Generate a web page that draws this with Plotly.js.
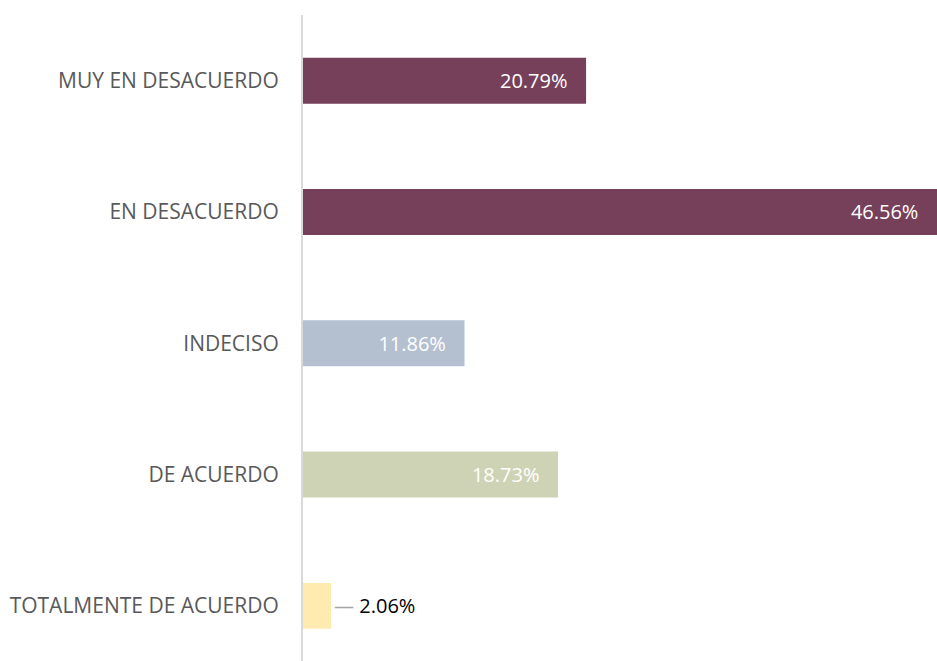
<!DOCTYPE html>
<html>
<head>
<meta charset="utf-8">
<script src="https://cdn.plot.ly/plotly-3.0.1.min.js"></script>
<style>html,body{margin:0;padding:0;background:#fff;}#chart{width:937px;height:661px;}</style>
</head>
<body>
<div id="chart"></div>
<script>
const categories = ["MUY EN DESACUERDO", "EN DESACUERDO", "INDECISO", "DE ACUERDO", "TOTALMENTE DE ACUERDO"];
const values = [20.79, 46.56, 11.86, 18.73, 2.06];
const barColors = ["#77405A", "#77405A", "#B4C0D0", "#CFD3B5", "#FFEAB0"];
const labelPositions = ["inside", "inside", "inside", "inside", "outside"];
const labelColors = ["#FFFFFF", "#FFFFFF", "#FFFFFF", "#FFFFFF", "#000000"];

const pad = "\u00a0\u00a0\u00a0";
const templates = values.map((v, i) => labelPositions[i] === "inside"
  ? "%{x:.2f}%" + pad
  : "<span style='color:#A6A6A6'>\u2014</span> %{x:.2f}%");

const trace = {
  type: "bar",
  orientation: "h",
  y: categories,
  x: values,
  marker: {color: barColors},
  texttemplate: templates,
  textposition: labelPositions,
  insidetextanchor: "end",
  textfont: {family: "Open Sans, sans-serif", size: 20, color: labelColors},
  constraintext: "none",
  cliponaxis: false,
  hoverinfo: "none"
};

const layout = {
  width: 937, height: 661,
  margin: {l: 303, r: 0, t: 15, b: 0},
  paper_bgcolor: "#fff", plot_bgcolor: "#fff",
  showlegend: false,
  bargap: 0.65,
  xaxis: {range: [0, 46.56], showgrid: false, zeroline: false, showticklabels: false, showline: false, fixedrange: true},
  yaxis: {
    categoryorder: "array", categoryarray: categories,
    range: [4.42, -0.5],
    showgrid: false, zeroline: false,
    showline: true, linecolor: "#D9D9D9", linewidth: 2,
    ticks: "", ticklabelstandoff: 18,
    tickfont: {family: "Open Sans, sans-serif", size: 21, color: "#595959"},
    fixedrange: true
  }
};

Plotly.newPlot("chart", [trace], layout, {displayModeBar: false, staticPlot: true});
</script>
</body>
</html>
